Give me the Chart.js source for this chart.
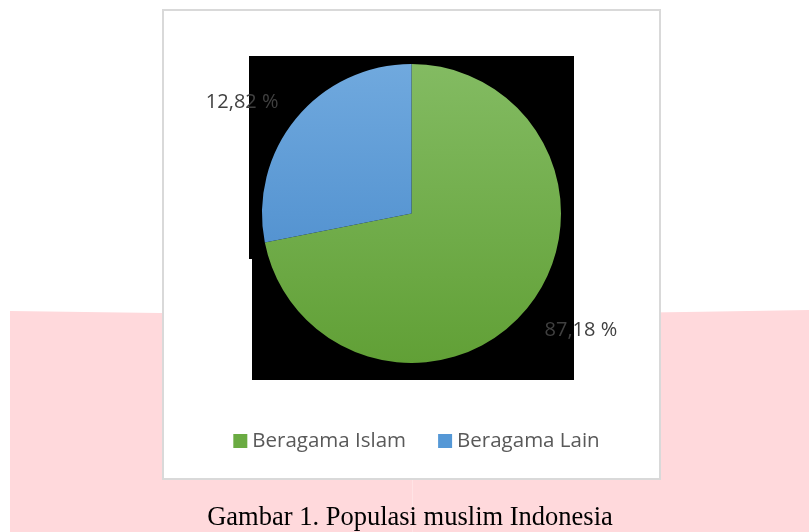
<!DOCTYPE html>
<html>
<head>
<meta charset="utf-8">
<script src="https://cdn.jsdelivr.net/npm/chart.js@4.4.1/dist/chart.umd.min.js"></script>
<style>
  html, body { margin: 0; padding: 0; background: #ffffff; }
  #wrap { position: relative; width: 809px; height: 532px; overflow: hidden; }
  #c { position: absolute; left: 0; top: 0; }
  #caption { position: absolute; left: 0; width: 820px; top: 499px; text-align: center;
    font-family: "Liberation Serif", "Times New Roman", serif; font-size: 26.5px; color: #000; line-height: 34px; }
</style>
</head>
<body>
<div id="wrap">
  <canvas id="c" width="809" height="532"></canvas>
  <div id="caption">Gambar 1. Populasi muslim Indonesia</div>
</div>
<script>
// ---- data ----
const categories = ["Beragama Islam", "Beragama Lain"];
const sliceValues = [71.9, 28.1];          // slice sizes as drawn in the picture
const labelTexts = ["87,18 %", "12,82 %"]; // data label texts as printed
const colorTop = ["#83bb62", "#70a9de"];
const colorBottom = ["#61a036", "#4285c8"];
const legendColors = ["#6aab42", "#5598d6"];

const backgroundPlugin = {
  id: 'pageBackground',
  beforeDraw(chart) {
    const ctx = chart.ctx;
    ctx.save();
    ctx.fillStyle = '#ffffff';
    ctx.fillRect(0, 0, 809, 532);
    // pink band
    ctx.fillStyle = '#ffd9dc';
    ctx.beginPath();
    ctx.moveTo(10, 311);
    ctx.quadraticCurveTo(410, 318, 809, 310);
    ctx.lineTo(809, 532);
    ctx.lineTo(10, 532);
    ctx.closePath();
    ctx.fill();
    // faint seam
    ctx.fillStyle = '#ffe3e5';
    ctx.fillRect(412, 480, 1, 52);
    // card
    ctx.fillStyle = '#ffffff';
    ctx.fillRect(163, 10, 497, 469);
    ctx.strokeStyle = '#d9d9d9';
    ctx.lineWidth = 2;
    ctx.strokeRect(163, 10, 497, 469);
    // black backdrop
    ctx.fillStyle = '#000000';
    ctx.fillRect(249, 56, 325, 203);
    ctx.fillRect(252, 258, 322, 122);
    ctx.restore();
  }
};

const labelPlugin = {
  id: 'sliceLabels',
  afterDatasetsDraw(chart) {
    const ctx = chart.ctx;
    const meta = chart.getDatasetMeta(0);
    ctx.save();
    ctx.font = '20px "Open Sans"';
    ctx.fillStyle = '#404040';
    ctx.textAlign = 'center';
    ctx.textBaseline = 'middle';
    meta.data.forEach((arc, i) => {
      const p = arc.getProps(['x', 'y', 'startAngle', 'endAngle', 'outerRadius'], true);
      const mid = (p.startAngle + p.endAngle) / 2 - 5.5 * Math.PI / 180;
      const d = p.outerRadius * 1.365;
      ctx.fillText(labelTexts[i], p.x + Math.cos(mid) * d, p.y + Math.sin(mid) * d + 3);
    });
    // legend
    ctx.font = '20.5px "Open Sans"';
    ctx.textAlign = 'left';
    ctx.textBaseline = 'middle';
    const box = 14, gapBox = 5, gapItem = 32;
    const widths = categories.map(t => ctx.measureText(t).width);
    let total = 0;
    widths.forEach((w, i) => { total += box + gapBox + w + (i < widths.length - 1 ? gapItem : 0); });
    let x = 416.5 - total / 2;
    const yc = 441;
    categories.forEach((t, i) => {
      ctx.fillStyle = legendColors[i];
      ctx.fillRect(x, yc - box / 2, box, box);
      x += box + gapBox;
      ctx.fillStyle = '#595959';
      ctx.fillText(t, x, yc);
      x += widths[i] + gapItem;
    });
    ctx.restore();
  }
};

function sliceGradient(context) {
  const i = context.dataIndex;
  const chart = context.chart;
  const area = chart.chartArea;
  if (!area) return colorTop[i];
  const g = chart.ctx.createLinearGradient(0, area.top, 0, area.bottom);
  g.addColorStop(0, colorTop[i]);
  g.addColorStop(1, colorBottom[i]);
  return g;
}

new Chart(document.getElementById('c'), {
  type: 'pie',
  data: {
    labels: categories,
    datasets: [{
      data: sliceValues,
      backgroundColor: sliceGradient,
      borderWidth: 0
    }]
  },
  options: {
    responsive: false,
    animation: false,
    layout: { padding: { left: 262, right: 248, top: 64, bottom: 169 } },
    plugins: { legend: { display: false }, tooltip: { enabled: false } }
  },
  plugins: [backgroundPlugin, labelPlugin]
});
</script>
</body>
</html>
